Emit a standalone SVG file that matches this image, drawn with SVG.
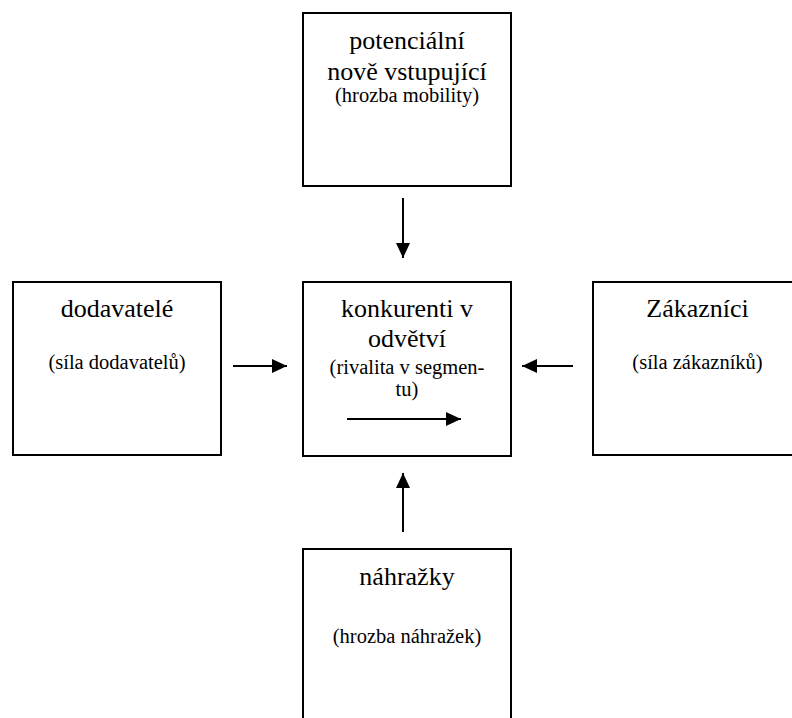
<svg xmlns="http://www.w3.org/2000/svg" width="792" height="718" viewBox="0 0 792 718">
<style>
.t{font-family:'Liberation Serif',Tinos,'Times New Roman',Times,'DejaVu Serif',serif;font-size:26px;fill:#000;text-anchor:middle}
.s{font-family:'Liberation Serif',Tinos,'Times New Roman',Times,'DejaVu Serif',serif;font-size:20.5px;fill:#000;text-anchor:middle}
.box{fill:#fff;stroke:#000;stroke-width:2}
.c{stroke:#000;stroke-width:2;fill:none;marker-end:url(#ah)}
</style>
<defs>
<marker id="ah" markerUnits="userSpaceOnUse" markerWidth="16" markerHeight="14" refX="15" refY="7" orient="auto">
<path d="M0,0 L15,7 L0,14 Z" fill="#000"/>
</marker>
</defs>
<rect width="792" height="718" fill="#fff"/>
<g id="top">
<rect class="box" x="303" y="13" width="208" height="173"/>
<text class="t" x="407" y="49">potenciální</text>
<text class="t" x="407" y="80">nově vstupující</text>
<text class="s" x="407" y="102">(hrozba mobility)</text>
</g>
<g id="left">
<rect class="box" x="13" y="282" width="208" height="173"/>
<text class="t" x="117" y="317">dodavatelé</text>
<text class="s" x="117" y="369">(síla dodavatelů)</text>
</g>
<g id="center">
<rect class="box" x="303" y="282" width="208" height="174"/>
<text class="t" x="407" y="317">konkurenti v</text>
<text class="t" x="407" y="347">odvětví</text>
<text class="s" x="407" y="374">(rivalita v segmen-</text>
<text class="s" x="407" y="396">tu)</text>
</g>
<g id="right">
<rect class="box" x="593" y="282" width="209" height="173"/>
<text class="t" x="697.5" y="317">Zákazníci</text>
<text class="s" x="697.5" y="369">(síla zákazníků)</text>
</g>
<g id="bottom">
<rect class="box" x="303" y="549" width="208" height="180"/>
<text class="t" x="407" y="585">náhražky</text>
<text class="s" x="407" y="643">(hrozba náhražek)</text>
</g>
<g id="connectors">
<line class="c" x1="403" y1="198" x2="403" y2="258"/>
<line class="c" x1="233" y1="366" x2="287" y2="366"/>
<line class="c" x1="573" y1="366" x2="522" y2="366"/>
<line class="c" x1="347" y1="419" x2="461" y2="419"/>
<line class="c" x1="403" y1="532" x2="403" y2="473"/>
</g>
</svg>
